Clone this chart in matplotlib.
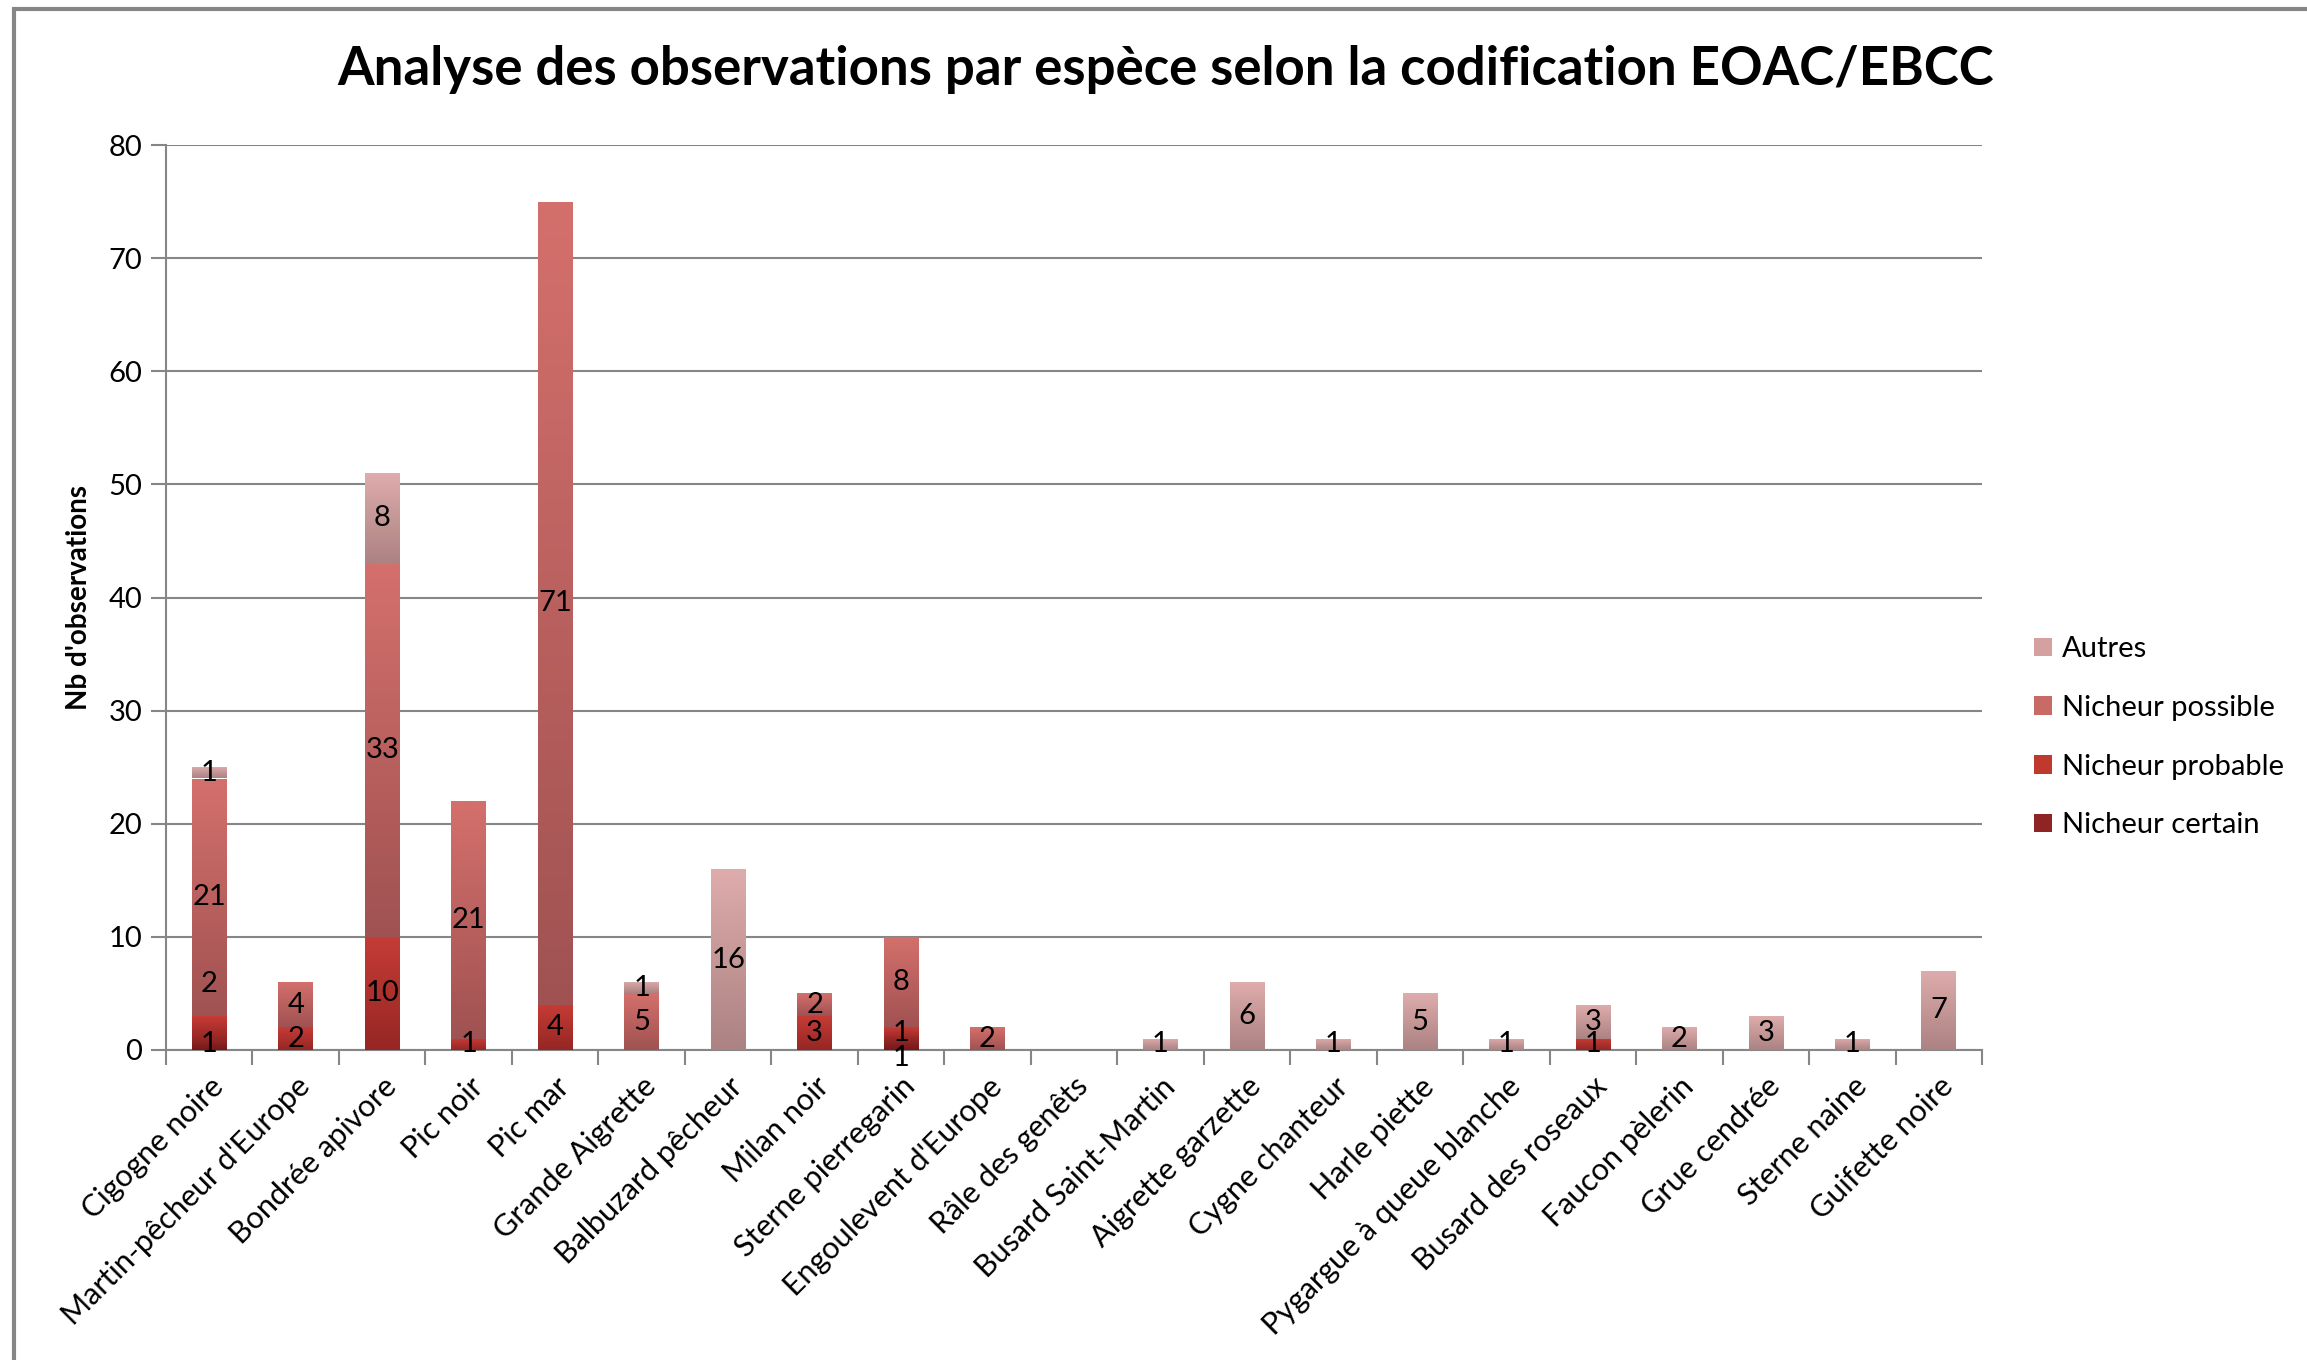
import numpy as np
import matplotlib
matplotlib.use("Agg")
import matplotlib.pyplot as plt
from matplotlib.patches import Patch, Rectangle

species = [
    "Cigogne noire", "Martin-pêcheur d'Europe", "Bondrée apivore", "Pic noir",
    "Pic mar", "Grande Aigrette", "Balbuzard pêcheur", "Milan noir",
    "Sterne pierregarin", "Engoulevent d'Europe", "Râle des genêts",
    "Busard Saint-Martin", "Aigrette garzette", "Cygne chanteur", "Harle piette",
    "Pygargue à queue blanche", "Busard des roseaux", "Faucon pèlerin",
    "Grue cendrée", "Sterne naine", "Guifette noire",
]
certain = [1, 0, 0, 0, 0, 0, 0, 0, 1, 0, 0, 0, 0, 0, 0, 0, 0, 0, 0, 0, 0]
probable = [2, 2, 10, 1, 4, 0, 0, 3, 1, 0, 0, 0, 0, 0, 0, 0, 1, 0, 0, 0, 0]
possible = [21, 4, 33, 21, 71, 5, 0, 2, 8, 2, 0, 0, 0, 0, 0, 0, 0, 0, 0, 0, 0]
autres = [1, 0, 8, 0, 0, 1, 16, 0, 0, 0, 0, 1, 6, 1, 5, 1, 3, 2, 3, 1, 7]

series_names = ["Nicheur certain", "Nicheur probable", "Nicheur possible", "Autres"]
series_values = [certain, probable, possible, autres]
# (top colour, bottom colour) of each gradient fill
series_colors = [
    ((150, 42, 40), (118, 24, 24)),
    ((198, 60, 54), (150, 38, 36)),
    ((212, 112, 108), (160, 82, 82)),
    ((222, 172, 172), (172, 130, 130)),
]
legend_colors = ["#8e2424", "#c0392f", "#c86a66", "#d4a0a0"]

# Excel moved a few labels away from their segment centre
label_nudge = {(0, 1): 3.8, (8, 0): -1.2}

FONT = "Lato"
plt.rcParams["font.family"] = [FONT, "DejaVu Sans"]

fig = plt.figure(figsize=(23.07, 13.6), dpi=100)
ax = fig.add_axes([166 / 2307, 1 - 1050 / 1360, (1982 - 166) / 2307, (1050 - 145) / 1360])

x = np.arange(len(species))
bottom = np.zeros(len(species))
grad = np.linspace(0, 1, 64)[:, None, None]

for s, (vals, (top_c, bot_c)) in enumerate(zip(series_values, series_colors)):
    vals = np.array(vals, dtype=float)
    bars = ax.bar(x, vals, width=0.4, bottom=bottom, color="none",
                  edgecolor="none", zorder=3)
    top_c = np.array(top_c) / 255
    bot_c = np.array(bot_c) / 255
    img = bot_c + (top_c - bot_c) * grad
    for i, patch in enumerate(bars):
        h = patch.get_height()
        if h <= 0:
            continue
        x0, y0, w = patch.get_x(), patch.get_y(), patch.get_width()
        im = ax.imshow(img, extent=[x0, x0 + w, y0, y0 + h], origin="lower",
                       aspect="auto", interpolation="bilinear", zorder=3)
        im.set_clip_path(patch)
        yl = y0 + h / 2 + label_nudge.get((i, s), 0)
        ax.text(x0 + w / 2, yl, "%d" % vals[i], ha="center", va="center",
                fontsize=21, color="black", zorder=5)
    bottom += vals

ax.set_xlim(-0.5, len(species) - 0.5)
ax.set_ylim(0, 80)
ax.set_yticks(range(0, 81, 10))
ax.yaxis.grid(True, color="#868686", linewidth=1.5, zorder=0)
ax.set_axisbelow(True)

ax.set_xticks(x)
ax.set_xticklabels(species, rotation=45, ha="right", rotation_mode="anchor",
                   fontsize=22)
ax.set_xticks(np.arange(-0.5, len(species)), minor=True)
ax.tick_params(axis="x", which="major", length=0, pad=16)
ax.tick_params(axis="x", which="minor", length=11, width=1.5, color="#868686")
ax.tick_params(axis="y", length=11, width=1.5, color="#868686", labelsize=21, pad=6)

for side in ["top", "right"]:
    ax.spines[side].set_visible(False)
for side in ["left", "bottom"]:
    ax.spines[side].set_color("#868686")
    ax.spines[side].set_linewidth(1.5)

ax.set_ylabel("Nb d'observations", fontsize=20, fontweight="bold")
ax.yaxis.set_label_coords(-0.041, 0.5)

fig.text(1166 / 2307, 1 - 69 / 1360,
         "Analyse des observations par espèce selon la codification EOAC/EBCC",
         ha="center", va="center", fontsize=38, fontweight="bold")

handles = [Patch(facecolor=legend_colors[k], edgecolor="none", label=series_names[k])
           for k in range(3, -1, -1)]
fig.legend(handles=handles, loc="upper left", frameon=False, fontsize=21,
           bbox_to_anchor=(2008 / 2307, 1 - 610 / 1360), handlelength=0.6,
           handleheight=0.6, handletextpad=0.35, labelspacing=1.12)

fig.add_artist(Rectangle((14 / 2307, -0.1), 1.2, 1.1 - 9 / 1360,
                         transform=fig.transFigure, fill=False,
                         edgecolor="#868686", linewidth=3))

fig.savefig("out.png", dpi=100)
